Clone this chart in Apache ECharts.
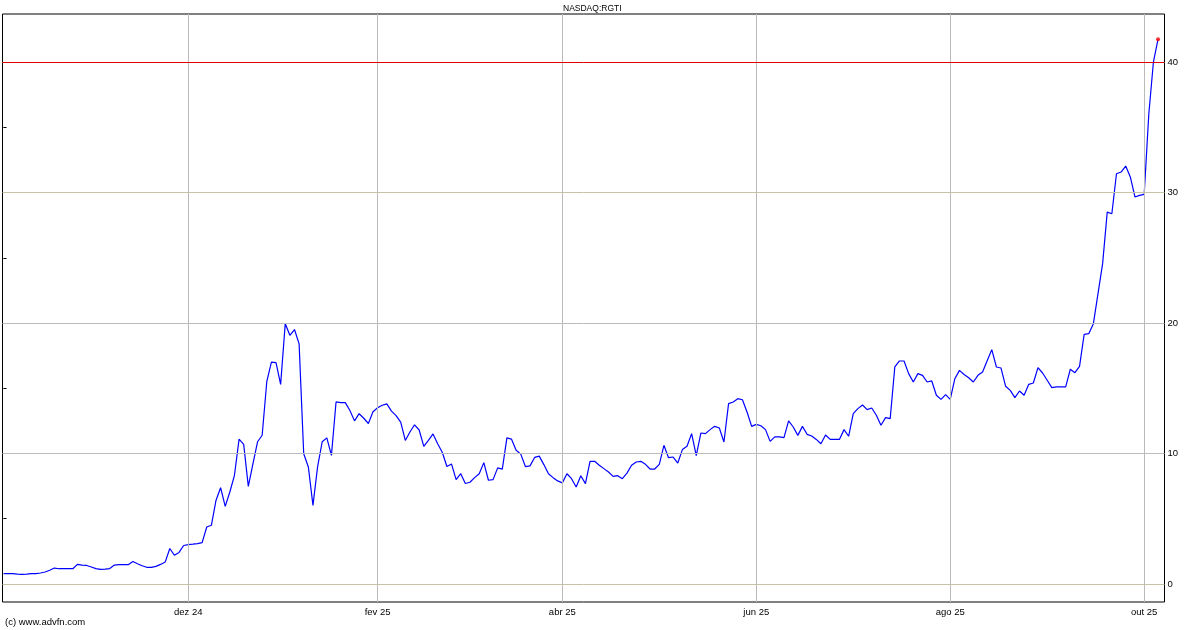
<!DOCTYPE html>
<html>
<head>
<meta charset="utf-8">
<script src="https://cdn.jsdelivr.net/npm/echarts@6/dist/echarts.min.js"></script>
<style>
html,body{margin:0;padding:0;background:#fff;}
#chart{width:1200px;height:630px;}
</style>
</head>
<body>
<div id="chart"></div>
<script>
// Daily closes (trading days), Oct 2024 -> Oct 2025
const prices = [
 0.80,0.80,0.79,0.75,0.74,0.76,0.79,0.79,0.84,0.92,
 1.05,1.22,1.17,1.17,1.17,1.17,1.50,1.45,1.42,1.30,
 1.18,1.12,1.14,1.18,1.45,1.48,1.48,1.48,1.72,1.55,
 1.40,1.28,1.28,1.35,1.50,1.68,2.72,2.20,2.42,2.95,
 3.02,3.05,3.10,3.17,4.37,4.50,6.40,7.38,5.95,7.05,
 8.33,11.10,10.70,7.48,9.20,10.90,11.40,15.50,17.00,16.96,
 15.30,19.95,19.06,19.50,18.40,9.98,8.97,6.03,8.97,10.90,
 11.20,9.86,13.95,13.90,13.90,13.30,12.50,13.05,12.70,12.30,
 13.20,13.50,13.70,13.80,13.25,12.90,12.40,11.00,11.65,12.20,
 11.80,10.55,11.00,11.50,10.75,10.10,9.00,9.20,8.00,8.45,
 7.70,7.80,8.15,8.45,9.30,7.95,8.00,8.90,8.80,11.20,
 11.10,10.25,9.95,9.00,9.05,9.70,9.80,9.15,8.45,8.15,
 7.90,7.75,8.45,8.07,7.43,8.30,7.69,9.40,9.40,9.10,
 8.84,8.58,8.25,8.30,8.07,8.50,9.10,9.35,9.40,9.17,
 8.81,8.81,9.17,10.63,9.68,9.73,9.27,10.30,10.55,11.52,
 9.83,11.57,11.52,11.83,12.08,11.95,10.88,13.82,13.95,14.20,
 14.12,13.18,12.08,12.23,12.13,11.83,10.93,11.27,11.27,11.22,
 12.50,12.03,11.39,12.08,11.47,11.34,11.08,10.75,11.42,11.08,
 11.08,11.08,11.83,11.32,13.05,13.44,13.72,13.36,13.49,12.93,
 12.16,12.75,12.67,16.63,17.09,17.09,16.12,15.48,16.12,15.99,
 15.48,15.56,14.46,14.15,14.51,14.15,15.73,16.37,16.05,15.80,
 15.48,15.99,16.25,17.10,17.96,16.63,16.55,15.15,14.84,14.28,
 14.79,14.46,15.30,15.40,16.58,16.17,15.61,15.05,15.10,15.10,
 15.10,16.45,16.19,16.68,19.13,19.18,19.95,22.25,24.55,28.50,
 28.37,31.44,31.57,32.03,31.19,29.66,29.78,29.86,36.00,40.00,
 41.75
];
// Month tick positions (index of first trading day of the month) and labels
const monthTickIdx = [40, 81, 121, 163, 205, 247];
const monthLabels = ['dez 24', 'fev 25', 'abr 25', 'jun 25', 'ago 25', 'out 25'];
const yTickValues = [0, 10, 20, 30, 40];
const yMinorTickValues = [0, 5, 10, 15, 20, 25, 30, 35, 40];
const refLevel = 40;
const titleText = 'NASDAQ:RGTI';
const creditText = '(c) www.advfn.com';

const xMin = -0.23, xMax = 251.4;
const yMin = -1.38, yMax = 43.68;
const FONT = '"Liberation Sans", Arial, sans-serif';

const hGridColors = ['#c6c4a4', '#b9bdbd', '#b9bdbd', '#c6c4a4', '#b9bdbd'];

const chart = echarts.init(document.getElementById('chart'), null, {renderer: 'canvas'});
chart.setOption({
  animation: false,
  backgroundColor: '#ffffff',
  title: [
    {text: titleText, left: 563, top: 4, padding: 0,
     textStyle: {fontFamily: FONT, fontSize: 8.5, fontWeight: 'normal', color: '#000'}},
    {text: creditText, left: 5, top: 617, padding: 0,
     textStyle: {fontFamily: FONT, fontSize: 9.5, fontWeight: 'normal', color: '#000'}}
  ],
  grid: {left: 2.5, right: 35.5, top: 14, bottom: 28, show: true,
         borderColor: '#000', borderWidth: 1, backgroundColor: 'transparent'},
  xAxis: [
    {type: 'value', min: xMin, max: xMax, position: 'bottom',
     axisLine: {show: false},
     splitLine: {show: false},
     axisTick: {show: true, inside: false, length: 3, customValues: monthTickIdx,
                lineStyle: {color: '#000'}},
     axisLabel: {show: true, customValues: monthTickIdx, margin: 5,
                 fontFamily: FONT, fontSize: 9.5, color: '#000',
                 formatter: v => monthLabels[monthTickIdx.indexOf(Math.round(v))] || ''}},
    {type: 'value', min: xMin, max: xMax, position: 'top',
     axisLine: {show: false}, splitLine: {show: false},
     axisTick: {show: true, inside: true, length: 3, customValues: monthTickIdx,
                lineStyle: {color: '#000'}},
     axisLabel: {show: false}}
  ],
  yAxis: [
    {type: 'value', min: yMin, max: yMax, position: 'right',
     axisLine: {show: false}, splitLine: {show: false},
     axisTick: {show: true, inside: false, length: 3, customValues: yMinorTickValues,
                lineStyle: {color: '#000'}},
     axisLabel: {show: true, customValues: yTickValues, margin: 3,
                 fontFamily: FONT, fontSize: 9.5, color: '#000'}},
    {type: 'value', min: yMin, max: yMax, position: 'left',
     axisLine: {show: false}, splitLine: {show: false},
     axisTick: {show: true, inside: true, length: 2, customValues: yMinorTickValues,
                lineStyle: {color: '#000'}},
     axisLabel: {show: false}}
  ],
  series: [
    {
      name: 'grid', type: 'line', xAxisIndex: 0, yAxisIndex: 0, z: 1,
      data: [[xMin, yMin]], showSymbol: false, lineStyle: {opacity: 0}, silent: true,
      markLine: {
        silent: true, symbol: 'none', animation: false,
        label: {show: false},
        data: yTickValues.map((v, k) => ({yAxis: v, lineStyle: {color: hGridColors[k], width: 1, type: 'solid'}}))
          .concat(monthTickIdx.map(v => ({xAxis: v, lineStyle: {color: '#bababa', width: 1, type: 'solid'}})))
      }
    },
    {
      name: 'RGTI', type: 'line', xAxisIndex: 0, yAxisIndex: 0, z: 3,
      data: prices.map((v, i) => [i, v]),
      showSymbol: false, smooth: false,
      lineStyle: {color: '#0000ff', width: 1.2},
      markLine: {
        silent: true, symbol: 'none', animation: false, label: {show: false},
        data: [{yAxis: refLevel, lineStyle: {color: '#dd0000', width: 1, type: 'solid'}}]
      }
    },
    {
      name: 'last', type: 'scatter', xAxisIndex: 0, yAxisIndex: 0, z: 4,
      data: [[prices.length - 1, prices[prices.length - 1]]],
      symbol: 'circle', symbolSize: 4, itemStyle: {color: '#ff0000'}
    }
  ]
});
</script>
</body>
</html>
